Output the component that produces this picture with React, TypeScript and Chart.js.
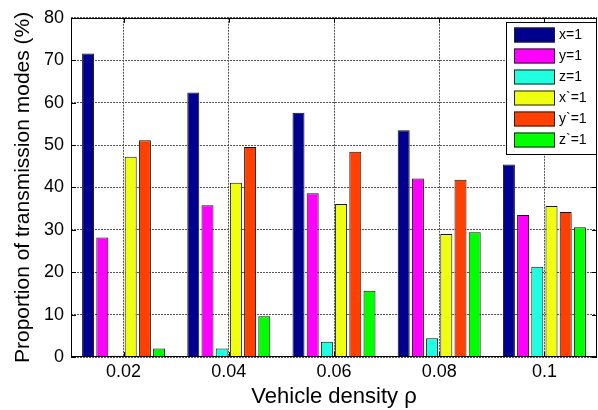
import React, { useEffect, useRef } from "react";
import { Chart, registerables } from "chart.js";

Chart.register(...registerables);

const densities = ["0.02", "0.04", "0.06", "0.08", "0.1"];
const modeLabels = ["x=1", "y=1", "z=1", "x`=1", "y`=1", "z`=1"];
const modeColors = ["#00008F", "#FF00FF", "#20FFE0", "#F0FF10", "#FF4000", "#00FF00"];

const xOne = [71.6, 62.4, 57.6, 53.5, 45.4];
const yOne = [28.2, 35.8, 38.6, 42.1, 33.5];
const zOne = [0.3, 2.0, 3.6, 4.4, 21.3];
const xPrimeOne = [47.2, 41.1, 36.1, 29.0, 35.6];
const yPrimeOne = [51.1, 49.5, 48.4, 41.8, 34.2];
const zPrimeOne = [2.0, 9.6, 15.6, 29.4, 30.6];

const seriesValues = [xOne, yOne, zOne, xPrimeOne, yPrimeOne, zPrimeOne];

const FONT = "'Liberation Sans', Arial, sans-serif";

// Frame around the plot area plus MATLAB-style legend box in the upper right.
const framePlugin = {
  id: "frameAndLegend",
  afterDatasetsDraw(chart: any) {
    const { ctx, chartArea } = chart;
    const { left, top, right, bottom } = chartArea;
    ctx.save();
    ctx.strokeStyle = "#000";
    ctx.lineWidth = 1;
    ctx.strokeRect(Math.round(left) + 0.5, Math.round(top) + 0.5, Math.round(right - left) - 1, Math.round(bottom - top) - 1);

    // small inward ticks on all four edges
    const xs = chart.scales.x;
    const ys = chart.scales.y;
    ctx.beginPath();
    for (let i = 0; i < densities.length; i++) {
      const px = Math.round(xs.getPixelForValue(i)) + 0.5;
      ctx.moveTo(px, top);
      ctx.lineTo(px, top + 5);
      ctx.moveTo(px, bottom);
      ctx.lineTo(px, bottom - 5);
    }
    for (let v = 0; v <= 80; v += 10) {
      const py = Math.round(ys.getPixelForValue(v)) + 0.5;
      ctx.moveTo(left, py);
      ctx.lineTo(left + 5, py);
      ctx.moveTo(right, py);
      ctx.lineTo(right - 5, py);
    }
    ctx.stroke();

    // legend
    const bx = 506, by = 22, bw = 90, bh = 132;
    ctx.fillStyle = "#fff";
    ctx.fillRect(bx, by, bw, bh);
    ctx.lineWidth = 1;
    ctx.strokeStyle = "#000";
    ctx.strokeRect(bx + 0.5, by + 0.5, bw, bh);
    ctx.font = `14px ${FONT}`;
    ctx.textBaseline = "middle";
    ctx.textAlign = "left";
    for (let i = 0; i < modeLabels.length; i++) {
      const sy = 27.5 + i * 21;
      ctx.fillStyle = modeColors[i];
      ctx.fillRect(514, sy, 41, 15);
      ctx.strokeStyle = "#222";
      ctx.strokeRect(514.5, sy + 0.5, 40, 14);
      ctx.fillStyle = "#000";
      ctx.fillText(modeLabels[i], 559, sy + 8);
    }
    ctx.restore();
  },
};

export default function App() {
  const canvasRef = useRef<HTMLCanvasElement | null>(null);

  useEffect(() => {
    const canvas = canvasRef.current;
    if (!canvas) return;
    const chart = new Chart(canvas, {
      type: "bar",
      data: {
        labels: densities,
        datasets: modeLabels.map((label, i) => ({
          label,
          data: seriesValues[i],
          backgroundColor: modeColors[i],
          borderColor: "#111",
          borderWidth: 1,
          barPercentage: 0.845,
          categoryPercentage: 0.81,
        })),
      },
      plugins: [framePlugin],
      options: {
        responsive: false,
        animation: false,
        layout: { padding: { left: 0, top: 16, right: 1, bottom: 0 } },
        plugins: {
          legend: { display: false },
          tooltip: { enabled: false },
        },
        scales: {
          x: {
            grid: {
              offset: false,
              color: "#555",
              lineWidth: 1,
              drawTicks: false,
            },
            border: { display: false, dash: [2, 1] },
            ticks: {
              color: "#000",
              font: { family: FONT, size: 18 },
              padding: 4,
            },
            title: {
              display: true,
              text: "Vehicle density \u03c1",
              color: "#000",
              font: { family: FONT, size: 22 },
              padding: { top: 0, bottom: 0 },
            },
            afterFit(scale: any) {
              scale.height = 53;
            },
          },
          y: {
            min: 0,
            max: 80,
            ticks: {
              stepSize: 10,
              color: "#000",
              font: { family: FONT, size: 18 },
              padding: 7,
            },
            grid: {
              color: "#555",
              lineWidth: 1,
              drawTicks: false,
            },
            border: { display: false, dash: [2, 1] },
            title: {
              display: true,
              text: "Proportion of transmission modes (%)",
              color: "#000",
              font: { family: FONT, size: 21 },
              padding: { top: 11, bottom: 0 },
            },
            afterFit(scale: any) {
              scale.width = 71;
            },
          },
        },
      },
    });
    return () => chart.destroy();
  }, []);

  return (
    <div style={{ position: "absolute", left: 0, top: 0, width: 598, height: 410, background: "#fff" }}>
      <canvas ref={canvasRef} width={598} height={410} />
    </div>
  );
}
